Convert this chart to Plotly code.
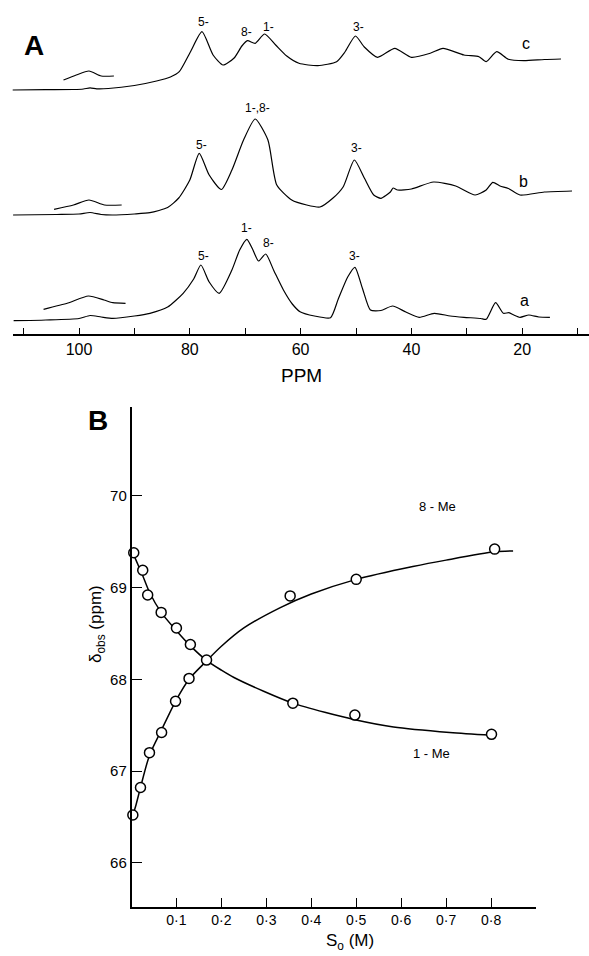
import plotly.graph_objects as go

# ---------------- Panel A: 13C spectra, chemical shift (ppm) vs stacked intensity ----------------
# trace a (bottom)
a_ppm = [111.8, 106, 100, 98.0, 96, 93.9, 90, 87.2, 84, 81.2, 79.3, 78.0, 76.5, 74.7, 72.4, 71.0,
         69.7, 68.6, 67.6, 66.3, 64.8, 63.1, 61.5, 60.1, 57.5, 54.6, 53.2, 51.5, 50.2, 48.8, 47.4,
         45.5, 43.4, 41, 38.6, 35.9, 33, 30.5, 27.5, 26.5, 24.8, 23.4, 22.4, 21.5, 20.4, 18.8, 17, 15.0]
a_int = [13.3, 14, 15.5, 18.5, 17, 15.7, 18, 20.7, 27, 40.7, 55, 69, 52, 40.7, 64, 84,
         94.7, 84, 73, 80, 63, 44, 30, 22.3, 18, 16.3, 35, 57, 66.7, 45, 24,
         23.5, 28, 22, 16.7, 20.7, 18, 16.7, 15.5, 14.7, 31.3, 20.7, 21.3, 19, 16.7, 19, 17, 16.7]
a_inset_ppm = [106.4, 102, 98.3, 95.5, 93.9, 91.6]
a_inset_int = [24.7, 31, 38, 34, 31.3, 30.7]

# trace b (middle)
b_ppm = [111.9, 104, 100, 98.0, 96, 94, 90, 87.2, 84, 82, 80, 78.3, 76.5, 74.3, 72.4, 70.3,
         68.2, 65.9, 64.3, 61.6, 58.9, 56.5, 54.2, 52.3, 50.3, 48.5, 46.8, 45.5, 43.8, 43.3,
         42.5, 40, 36, 32, 28.5, 26.5, 25.3, 24, 22.5, 20.4, 16, 11]
b_int = [119, 119.5, 120, 121.5, 119.5, 119, 120, 121.3, 126.5, 136, 154, 180.7, 159, 144.5, 164, 194,
         215, 194, 149, 134, 129, 127, 135.7, 147.3, 174, 156, 139, 135.7, 142, 146,
         144, 145, 152, 148, 139, 144, 151.7, 148, 145.5, 139, 142, 143]
b_inset_ppm = [104.5, 101, 98.2, 95.4, 92.3]
b_inset_int = [124.7, 129, 134, 129, 129]

# trace c (top)
c_ppm = [112.6, 106, 101, 99.2, 98.0, 96.8, 94.7, 90, 86, 83.5, 81.9, 79.9, 77.8, 75.8, 74.0, 72.0,
         70.6, 69.6, 68.2, 66.5, 64.5, 62.5, 60.3, 56.9, 53.5, 52.0, 50.1, 48.5, 46.1, 43.0, 40.0,
         36.6, 34.3, 30.5, 27.8, 26.5, 24.6, 22.5, 19.7, 16.0, 13.0]
c_int = [244, 244.3, 244.5, 245, 246.2, 245.2, 245.5, 248.5, 253, 257, 262.3, 282, 302.3, 279, 269, 276,
         288, 293.3, 290.7, 300, 289, 278, 270.7, 268.3, 272.3, 282, 298, 287, 276.7, 285.7, 276.7,
         280.7, 285.7, 279, 277.3, 272.3, 282.3, 274.7, 273.3, 274.5, 275]
c_inset_ppm = [102.8, 100.5, 98.2, 96, 93.7]
c_inset_int = [254, 259, 263, 258, 258]

ppm_ticks = [110, 100, 90, 80, 70, 60, 50, 40, 30, 20, 10]
ppm_ticktext = ["", "100", "", "80", "", "60", "", "40", "", "20", ""]

# peak assignments: (text, ppm, intensity)
peak_labels = [
    ("5-", 77.6, 312.3), ("8-", 69.7, 302.3), ("1-", 65.8, 307.3), ("3-", 49.5, 307.3),
    ("1-,8-", 67.7, 225.7), ("5-", 77.9, 189), ("3-", 49.9, 185.7),
    ("1-", 69.7, 106.3), ("8-", 65.8, 90.7), ("5-", 77.6, 78), ("3-", 50.2, 78),
]
trace_letters = [("c", 19.4, 290.7), ("b", 19.7, 152.3), ("a", 19.5, 34)]

# ---------------- Panel B: observed shift vs substrate concentration ----------------
s_1me = [0.005, 0.025, 0.036, 0.066, 0.10, 0.131, 0.359, 0.497, 0.801]
d_1me = [69.38, 69.19, 68.92, 68.73, 68.56, 68.38, 67.74, 67.61, 67.40]
s_8me = [0.003, 0.02, 0.04, 0.067, 0.098, 0.128, 0.167, 0.353, 0.50, 0.808]
d_8me = [66.52, 66.82, 67.20, 67.42, 67.76, 68.01, 68.21, 68.91, 69.09, 69.42]

# fitted curves
fit1_s = [0.0, 0.01, 0.025, 0.04, 0.066, 0.10, 0.13, 0.166, 0.2, 0.228, 0.294, 0.359,
          0.43, 0.497, 0.583, 0.708, 0.80]
fit1_d = [69.42, 69.3, 69.13, 68.95, 68.73, 68.53, 68.37, 68.21, 68.1, 68.02, 67.87, 67.74,
          67.64, 67.56, 67.48, 67.42, 67.39]
fit8_s = [0.0, 0.01, 0.02, 0.04, 0.067, 0.098, 0.128, 0.167, 0.2, 0.25, 0.33, 0.4, 0.5,
          0.626, 0.7, 0.808, 0.849]
fit8_d = [66.47, 66.63, 66.82, 67.17, 67.45, 67.76, 68.0, 68.2, 68.36, 68.56, 68.78, 68.93,
          69.09, 69.23, 69.30, 69.39, 69.40]

s_ticks = [0.1, 0.2, 0.3, 0.4, 0.5, 0.6, 0.7, 0.8]
s_ticktext = ["0·1", "0·2", "0·3", "0·4", "0·5", "0·6", "0·7", "0·8"]
d_ticks = [66, 67, 68, 69, 70]

FONT = "Liberation Sans"
W, H = 589, 956
line_style = dict(color="black", width=1.2, shape="spline", smoothing=0.6)

fig = go.Figure()

for xs, ys in [(a_ppm, a_int), (a_inset_ppm, a_inset_int), (b_ppm, b_int),
               (b_inset_ppm, b_inset_int), (c_ppm, c_int), (c_inset_ppm, c_inset_int)]:
    fig.add_trace(go.Scatter(x=xs, y=ys, mode="lines", line=line_style,
                             xaxis="x", yaxis="y", showlegend=False, hoverinfo="skip"))

curve_style = dict(color="black", width=1.5, shape="spline", smoothing=0.8)
fig.add_trace(go.Scatter(x=fit1_s, y=fit1_d, mode="lines", line=curve_style,
                         xaxis="x2", yaxis="y2", showlegend=False, cliponaxis=False))
fig.add_trace(go.Scatter(x=fit8_s, y=fit8_d, mode="lines", line=curve_style,
                         xaxis="x2", yaxis="y2", showlegend=False, cliponaxis=False))
marker_style = dict(symbol="circle", size=10, color="white", line=dict(color="black", width=1.5))
fig.add_trace(go.Scatter(x=s_1me, y=d_1me, mode="markers", marker=marker_style,
                         xaxis="x2", yaxis="y2", showlegend=False, cliponaxis=False))
fig.add_trace(go.Scatter(x=s_8me, y=d_8me, mode="markers", marker=marker_style,
                         xaxis="x2", yaxis="y2", showlegend=False, cliponaxis=False))

annotations = []
for txt, x, y in peak_labels:
    annotations.append(dict(text=txt, x=x, y=y, xref="x", yref="y", showarrow=False,
                            font=dict(size=12, family=FONT, color="black")))
for txt, x, y in trace_letters:
    annotations.append(dict(text=txt, x=x, y=y, xref="x", yref="y", showarrow=False,
                            font=dict(size=16, family=FONT, color="black")))

def px(x, y, **kw):
    d = dict(x=x / W, y=1 - y / H, xref="paper", yref="paper", showarrow=False)
    d.update(kw)
    return d

annotations += [
    dict(text="<b>A</b>", font=dict(size=28, family=FONT, color="black"), **px(22, 28)),
    dict(text="PPM", font=dict(size=19, family=FONT, color="black"), **px(301, 375)),
    dict(text="<b>B</b>", font=dict(size=28, family=FONT, color="black"), **px(86, 420)),
    dict(text="δ<sub>obs</sub> (ppm)", textangle=-90,
         font=dict(size=17, family=FONT, color="black"), **px(84, 665)),
    dict(text="S<sub>o</sub> (M)", font=dict(size=17, family=FONT, color="black"),
         **px(350, 955, yanchor="bottom")),
    dict(text="8 - Me", font=dict(size=13, family=FONT, color="black"), **px(458, 506)),
    dict(text="1 - Me", font=dict(size=13, family=FONT, color="black"), **px(452, 763)),
]

fig.update_layout(
    width=W, height=H,
    margin=dict(l=0, r=0, t=0, b=0),
    paper_bgcolor="white", plot_bgcolor="white",
    font=dict(family=FONT, color="black"),
    xaxis=dict(domain=[12.7 / W, 1], range=[111.97, 7.94], anchor="y",
               showline=True, linecolor="black", linewidth=1.5,
               ticks="inside", ticklen=6, tickwidth=1.3, tickcolor="black",
               tickvals=ppm_ticks, ticktext=ppm_ticktext,
               tickfont=dict(size=16, family=FONT, color="black"),
               showgrid=False, zeroline=False),
    yaxis=dict(domain=[1 - 334 / H, 1], range=[0, 334], anchor="x", visible=False),
    xaxis2=dict(domain=[131.5 / W, 536 / W], range=[0, 0.9], anchor="y2",
                showline=True, linecolor="black", linewidth=1.5,
                ticks="inside", ticklen=9, tickwidth=1.3, tickcolor="black",
                tickvals=s_ticks, ticktext=s_ticktext,
                tickfont=dict(size=14, family=FONT, color="black"),
                showgrid=False, zeroline=False),
    yaxis2=dict(domain=[1 - 906.7 / H, 1 - 407 / H], range=[65.52, 70.97], anchor="x2",
                showline=True, linecolor="black", linewidth=1.5,
                ticks="inside", ticklen=11, tickwidth=1.3, tickcolor="black",
                tickvals=d_ticks,
                tickfont=dict(size=15, family=FONT, color="black"),
                showgrid=False, zeroline=False),
    annotations=annotations,
)

fig.write_html("out.html")
